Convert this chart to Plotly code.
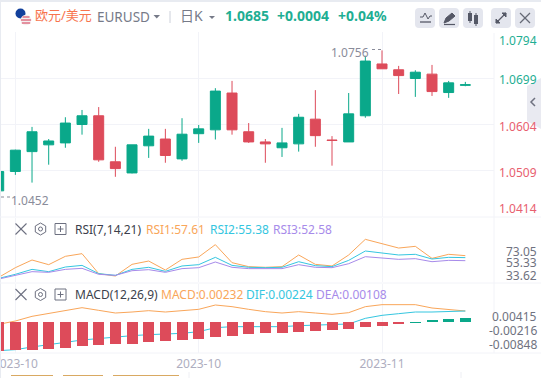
import plotly.graph_objects as go

# ---- data ----
candle_index = list(range(29))
opens = [1.0466,1.0506,1.0547,1.0561,1.0565,1.0603,1.0621,1.0526,1.0503,1.0559,1.0573,1.0532,1.0584,1.0592,1.0668,1.0588,1.0567,1.0555,1.0563,1.0614,1.0571,1.0567,1.0621,1.0728,1.0716,1.0698,1.0707,1.0669,1.0684]
highs = [1.0506,1.0551,1.0598,1.0573,1.0618,1.0633,1.0639,1.0557,1.0561,1.0594,1.0594,1.0616,1.0602,1.0678,1.0693,1.0606,1.0573,1.0596,1.0625,1.0674,1.0579,1.0668,1.0745,1.0756,1.0724,1.0715,1.0726,1.0693,1.0691]
lows = [1.0452,1.0499,1.0483,1.0520,1.0555,1.0582,1.0526,1.0495,1.0502,1.0534,1.0524,1.0528,1.0565,1.0572,1.0582,1.0565,1.0524,1.0536,1.0547,1.0557,1.0518,1.0567,1.0617,1.0718,1.0666,1.0660,1.0662,1.0658,1.0682]
closes = [1.0506,1.0550,1.0588,1.0569,1.0606,1.0621,1.0530,1.0512,1.0561,1.0579,1.0539,1.0583,1.0594,1.0672,1.0592,1.0567,1.0563,1.0565,1.0618,1.0580,1.0570,1.0625,1.0734,1.0718,1.0704,1.0711,1.0671,1.0689,1.0685]
rsi1 = [29.1,45.1,57.8,50.1,63.9,68.3,35.2,31.3,50.6,56.1,41.2,58.9,62.8,83.2,53.4,46.8,45.7,46.8,66.1,50.6,47.9,66.1,92.0,84.8,77.6,80.4,60.5,67.2,65.0]
rsi2 = [27.4,34.1,42.3,38.5,46.2,48.9,35.2,32.4,42.3,45.7,39.0,47.9,50.1,62.2,48.9,45.7,45.1,45.7,55.0,48.4,46.8,57.2,72.7,69.4,66.1,67.2,59.4,62.2,61.7]
rsi3 = [26.3,33.0,38.5,37.4,42.3,44.0,34.1,32.4,40.1,41.8,37.4,43.5,45.1,54.5,45.7,43.5,43.5,43.5,50.1,45.7,45.1,51.7,63.3,61.1,58.9,60.0,55.0,57.2,56.7]
macd_hist = [-.01293,-.01263,-.01263,-.01218,-.01158,-.01082,-.01037,-.00992,-.00992,-.00902,-.00857,-.00812,-.00767,-.00676,-.00631,-.00541,-.00496,-.00496,-.00451,-.00406,-.00361,-.00316,-.00225,-.00180,-.00090,-.00045,.00090,.00120,.00180]
macd_line = [-.00105,.00045,.00256,.00376,.00526,.00646,.00526,.00406,.00451,.00511,.00451,.00526,.00571,.00767,.00692,.00571,.00466,.00406,.00466,.00406,.00346,.00421,.00692,.00782,.00797,.00782,.00631,.00571,.00496]
dif_line = [-.01293,-.01248,-.01127,-.01007,-.00917,-.00812,-.00737,-.00661,-.00616,-.00571,-.00541,-.00511,-.00436,-.00256,-.00210,-.00210,-.00210,-.00210,-.00165,-.00135,-.00120,-.00090,.00165,.00301,.00376,.00451,.00451,.00481,.00496]
date_ticks = [1, 12, 23]
date_labels = ["2023-10", "2023-10", "2023-11"]
price_ticks = [1.0794, 1.0699, 1.0604, 1.0509, 1.0414]
price_labels = ["1.0794", "1.0699", "1.0604", "1.0509", "1.0414"]
rsi_labels = ["73.05", "53.33", "33.62"]
macd_labels = ["0.00415", "-0.00216", "-0.00848"]

GREEN, RED = "#0aa88a", "#dd4b5a"
GREEN_T, RED_T = "#1fae93", "#e8606f"
ORANGE, CYAN, PURPLE = "#f9a65a", "#35c6e0", "#a78bea"
GRID = "#f2f3f8"
GREY = "#6f7280"
FONT = "Noto Sans, Noto Sans CJK SC, sans-serif"
W, H = 541, 378
XR = [0.078, 29.72]

def dom(top, bottom):
    return [1 - bottom / H, 1 - top / H]

fig = go.Figure()
fig.add_trace(go.Candlestick(
    x=candle_index, open=opens, high=highs, low=lows, close=closes,
    xaxis="x", yaxis="y", whiskerwidth=0,
    increasing=dict(line=dict(color=GREEN, width=1), fillcolor=GREEN),
    decreasing=dict(line=dict(color=RED, width=1), fillcolor=RED),
))
for vals, col in ((rsi1, ORANGE), (rsi2, CYAN), (rsi3, PURPLE)):
    fig.add_trace(go.Scatter(x=candle_index, y=vals, mode="lines", xaxis="x2", yaxis="y2",
                             line=dict(color=col, width=1)))
for vals, col in ((macd_line, ORANGE), (dif_line, CYAN)):
    fig.add_trace(go.Scatter(x=candle_index, y=vals, mode="lines", xaxis="x3", yaxis="y3",
                             line=dict(color=col, width=1)))
fig.add_trace(go.Bar(x=candle_index, y=macd_hist, xaxis="x3", yaxis="y4", width=0.66,
                     marker=dict(color=[RED if i < 25 else GREEN for i in candle_index], line=dict(width=0))))
fig.add_trace(go.Scatter(x=[None], y=[None], xaxis="x9", yaxis="y9"))

xbase = dict(range=XR, domain=[0, 494 / W], showgrid=True, gridcolor=GRID, gridwidth=1, zeroline=False,
             showline=False, tickmode="array", tickvals=date_ticks, ticks="")
MACD_R = [-.01398, .01714]
fig.update_layout(
    width=W, height=H, margin=dict(l=0, r=0, t=0, b=0, autoexpand=False), paper_bgcolor="white",
    plot_bgcolor="rgba(0,0,0,0)",
    showlegend=False, font=dict(family=FONT, size=12, color=GREY), boxgap=0.4, boxgroupgap=0, bargap=0,
    xaxis=dict(**xbase, anchor="y", showticklabels=False, rangeslider=dict(visible=False)),
    xaxis2=dict(**xbase, anchor="y2", showticklabels=False),
    xaxis3=dict(**xbase, anchor="y3", ticktext=date_labels, ticklabeloverflow="allow", ticklabelstandoff=2,
                tickfont=dict(size=12, color="#aeaec0", family=FONT)),
    xaxis9=dict(range=[0, W], domain=[0, 1], visible=False, anchor="y9", fixedrange=True),
    yaxis=dict(range=[1.0412, 1.0794], domain=dom(32, 217), tickmode="array", tickvals=price_ticks,
               showticklabels=False, gridcolor=GRID, zeroline=False, anchor="x"),
    yaxis2=dict(range=[21.4, 127.3], domain=dom(218, 282), showgrid=False, showticklabels=False,
                zeroline=False, anchor="x2"),
    yaxis3=dict(range=MACD_R, domain=dom(284, 353), showgrid=False, showticklabels=False,
                zeroline=False, anchor="x3"),
    yaxis4=dict(range=MACD_R, overlaying="y3", showgrid=False, showticklabels=False, zeroline=False,
                anchor="x3"),
    yaxis9=dict(range=[H, 0], domain=[0, 1], visible=False, anchor="x9", fixedrange=True),
)

shapes, annos = [], []
def line(x0, y0, x1, y1, color=GRID, width=1, dash=None):
    shapes.append(dict(type="line", xref="x9", yref="y9", x0=x0, y0=y0, x1=x1, y1=y1,
                       line=dict(color=color, width=width, dash=dash)))
def rect(x0, y0, x1, y1, fill, lc=None, lw=0):
    shapes.append(dict(type="rect", xref="x9", yref="y9", x0=x0, y0=y0, x1=x1, y1=y1, fillcolor=fill,
                       line=dict(color=lc or fill, width=lw)))
def path(d, fill=None, color=GREY, width=1):
    shapes.append(dict(type="path", xref="x9", yref="y9", path=d, fillcolor=fill or "rgba(0,0,0,0)",
                       line=dict(color=color, width=width)))
def circle(cx, cy, r, fill, lc=None, lw=0):
    shapes.append(dict(type="circle", xref="x9", yref="y9", x0=cx - r, y0=cy - r, x1=cx + r, y1=cy + r,
                       fillcolor=fill, line=dict(color=lc or fill, width=lw)))
def text(x, y, s, color=GREY, size=12, anchor="left", bold=False):
    annos.append(dict(xref="x9", yref="y9", x=x, y=y, text=f"<b>{s}</b>" if bold else s, showarrow=False,
                      xanchor=anchor, yanchor="middle", font=dict(color=color, size=size, family=FONT),
                      borderpad=0, borderwidth=0))
def roundrect(x0, y0, x1, y1, r, fill):
    path(f"M{x0+r},{y0} L{x1-r},{y0} Q{x1},{y0} {x1},{y0+r} L{x1},{y1-r} Q{x1},{y1} {x1-r},{y1} "
         f"L{x0+r},{y1} Q{x0},{y1} {x0},{y1-r} L{x0},{y0+r} Q{x0},{y0} {x0+r},{y0} Z", fill=fill, color=fill, width=0)

# frame and separators
rect(0, 0, W, 2, "#e8ebf1")
rect(0, 0, 1, H, "#e8ebf1")
for y in (217, 283, 353):
    line(0, y, W, y)
line(494, 33, 494, 353)

# header
circle(20.5, 13.5, 5, "#12409c")
circle(26, 20, 5.3, "#f4f0f0")
for y, hw in ((17, 3.5), (20, 5.1), (23, 4.2)):
    line(26 - hw, y, 26 + hw, y, "#d9536a", 1.2)
text(35, 15, "欧元/美元", "#f7744e", 13)
text(97, 16.5, "EURUSD", "#767a88", 13.5)
path("M153.5,15 L160,15 L156.75,18.5 Z", fill="#767a88", color="#767a88", width=0)
line(170, 11, 170, 23, "#ccd0da")
text(180, 15, "日K", "#767a88", 14)
path("M209,16 L215,16 L212,19 Z", fill="#767a88", color="#767a88", width=0)
text(225, 15, "1.0685", GREEN_T, 14, bold=True)
text(277, 15, "+0.0004", GREEN_T, 14, bold=True)
text(338, 15, "+0.04%", GREEN_T, 14, bold=True)
for x0 in (415, 439, 463, 491, 515):
    roundrect(x0, 8, x0 + 20, 28, 4, "#e4e6ee")
path("M420,17 L423,17 L425,13 L428,19 L430,16 L432,16", color="#555866")
line(420, 22, 431, 22, "#555866", 1.3)
path("M444,23 L446,18 L452,13 L455,16 L449,21 Z", fill="#555866", color="#555866")
line(444, 24.5, 455, 24.5, "#555866", 1.2)
rect(468, 13, 472, 21, "#555866")
rect(474, 15, 478, 24, "#555866")
line(470, 11, 470, 23, "#555866")
line(476, 13, 476, 26, "#555866")
line(496, 23, 506, 13, "#555866", 1.2)
path("M502,13 L506,13 L506,17 Z", fill="#555866", color="#555866")
path("M496,19 L496,23 L500,23 Z", fill="#555866", color="#555866")
line(520, 13, 530, 23, "#666a76", 1.2)
line(530, 13, 520, 23, "#666a76", 1.2)

# collapse tab
path("M541,78 L527,86 L527,121 L541,129 Z", fill="rgba(229,230,238,0.85)", color="rgba(0,0,0,0)", width=0)
path("M535,98 L531,102 L535,106", color="#6f7280", width=1.5)

# price labels
for lab, y, col in zip(price_labels, (40.5, 79, 126, 172, 208), (GREEN_T, GREEN_T, RED_T, RED_T, RED_T)):
    text(537, y, lab, col, 12, anchor="right")
text(369, 52, "1.0756", "#8a8c9a", 12, anchor="right")
line(372, 49.5, 382, 49.5, "#8a8c9a", 1, "dot")
text(11, 200.5, "1.0452", "#8a8c9a", 12)
line(1, 197, 10, 197, "#8a8c9a", 1, "dot")

# RSI / MACD headers
def controls(y):
    c = "#6d7080"
    line(15.5, y - 5.5, 26.5, y + 5.5, c, 1.1)
    line(26.5, y - 5.5, 15.5, y + 5.5, c, 1.1)
    path(f"M40.5,{y-6} L45.7,{y-3} L45.7,{y+3} L40.5,{y+6} L35.3,{y+3} L35.3,{y-3} Z", color=c)
    circle(40.5, y, 2, "white", c, 1)
    rect(55, y - 5.5, 66, y + 5.5, "white", c, 1)
    line(57.5, y, 63.5, y, c, 1)
    line(60.5, y - 3, 60.5, y + 3, c, 1)

controls(229)
text(75, 229, "RSI(7,14,21)", "#3c3f4c")
text(146, 229, "RSI1:57.61", ORANGE)
text(210, 229, "RSI2:55.38", CYAN)
text(273, 229, "RSI3:52.58", PURPLE)
for lab, y in zip(rsi_labels, (251, 262.7, 275)):
    text(537, y, lab, GREY, 12, anchor="right")

controls(294.5)
text(75, 294.5, "MACD(12,26,9)", "#3c3f4c")
text(161, 294.5, "MACD:0.00232", ORANGE)
text(246, 294.5, "DIF:0.00224", CYAN)
text(316, 294.5, "DEA:0.00108", PURPLE)
for lab, y in zip(macd_labels, (316.7, 330.7, 344.7)):
    text(537, y, lab, GREY, 12, anchor="right")

# clipped buttons along the bottom
for x0, x1 in ((11, 53), (63, 103), (113, 179)):
    roundrect(x0, 375.5, x1, 392, 2, "white")
    line(x0, 375.5, x1, 375.5, "#d9a962")
line(189, 372, 189, 378, "#eeeff4")
line(461, 372, 461, 378, "#eeeff4")

fig.update_layout(shapes=shapes, annotations=annos)
fig.write_html("out.html", config={"displayModeBar": False},
               post_script="document.body.style.margin='0';document.body.style.overflow='hidden';")
